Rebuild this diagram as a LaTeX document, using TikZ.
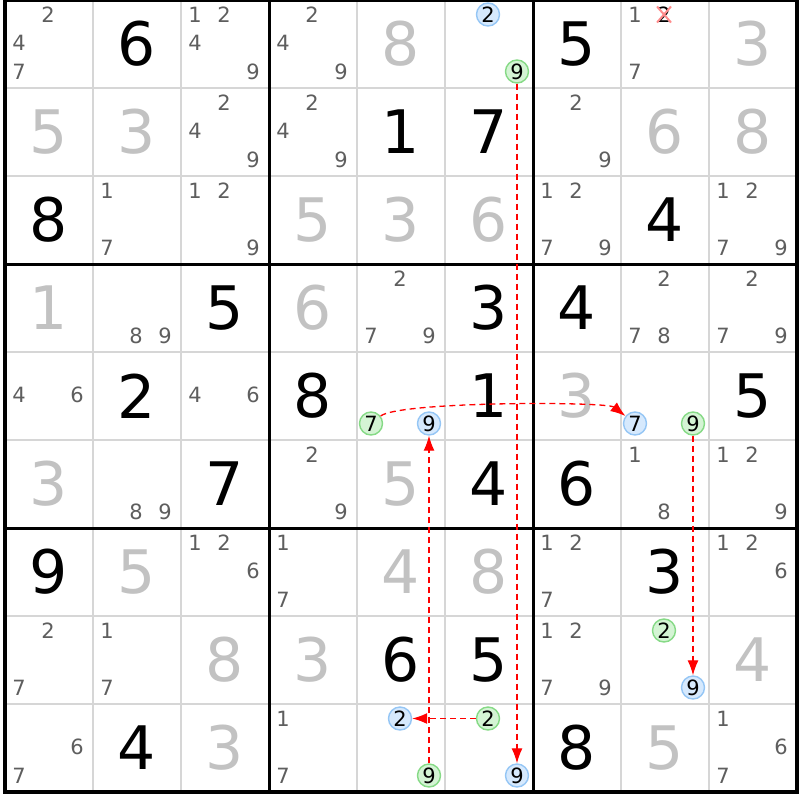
\documentclass[tikz,border=0pt]{standalone}
\usepackage{fontspec}
\setmainfont{DejaVu Sans}
\usetikzlibrary{arrows.meta}

\definecolor{gridgrey}{HTML}{D6D6D6}
\definecolor{pencilgrey}{HTML}{5E5E5E}
\definecolor{solvedgrey}{HTML}{C2C2C2}
\definecolor{bluefill}{HTML}{D6E9FD}
\definecolor{bluedraw}{HTML}{95C6F5}
\definecolor{greenfill}{HTML}{D4F4D4}
\definecolor{greendraw}{HTML}{86DA86}
\definecolor{crossred}{HTML}{FF8C8C}

\tikzset{
	given/.style={font=\fontsize{60}{60}\selectfont, text=black, inner sep=0pt},
	solved/.style={given, text=solvedgrey},
	cand/.style={font=\fontsize{21}{21}\selectfont, text=pencilgrey, inner sep=0pt},
	bluecand/.style={cand, text=black, circle, draw=bluedraw, fill=bluefill, line width=1.4pt, minimum size=23pt},
	greencand/.style={bluecand, draw=greendraw, fill=greenfill},
	link/.style={->, color=red, line width=1.3pt, dash pattern=on 6pt off 4pt}
}

\begin{document}
\begin{tikzpicture}[x=1pt, y=1pt, >={Latex[length=15pt,width=11pt]}]

\fill[white] (0,0) rectangle (800,-800);
\useasboundingbox (0,0) rectangle (800,-800);

\foreach \i in {1,2,4,5,7,8}{
	\draw[gridgrey, line width=2pt] ({5+88*\i},0)--({5+88*\i},-792);
	\draw[gridgrey, line width=2pt] (5,{-88*\i})--(797,{-88*\i});
}
\foreach \i in {3,6}{
	\draw[line width=3pt] ({5+88*\i},0)--({5+88*\i},-792);
	\draw[line width=3pt] (5,{-88*\i})--(797,{-88*\i});
}
\draw[line width=4pt] (5,0) rectangle (797,-792);

\foreach \c/\r/\v in {1/0/6, 6/0/5, 4/1/1, 5/1/7, 0/2/8, 7/2/4, 2/3/5, 5/3/3, 6/3/4,
	1/4/2, 3/4/8, 5/4/1, 8/4/5, 2/5/7, 5/5/4, 6/5/6, 0/6/9, 7/6/3, 4/7/6, 5/7/5, 1/8/4, 6/8/8}{
	\node[given] (g\c\r) at ({49+88*\c},{-44-88*\r}) {\v};
}
\foreach \c/\r/\v in {4/0/8, 8/0/3, 0/1/5, 1/1/3, 7/1/6, 8/1/8, 3/2/5, 4/2/3, 5/2/6, 0/3/1, 3/3/6,
	6/4/3, 0/5/3, 4/5/5, 1/6/5, 4/6/4, 5/6/8, 2/7/8, 3/7/3, 8/7/4, 2/8/3, 7/8/5}{
	\node[solved] (s\c\r) at ({49+88*\c},{-44-88*\r}) {\v};
}

\foreach \c/\r/\ds in {0/0/{2,4,7}, 2/0/{1,2,4,9}, 3/0/{2,4,9}, 7/0/{1,7},
	2/1/{2,4,9}, 3/1/{2,4,9}, 6/1/{2,9},
	1/2/{1,7}, 2/2/{1,2,9}, 6/2/{1,2,7,9}, 8/2/{1,2,7,9},
	1/3/{8,9}, 4/3/{2,7,9}, 7/3/{2,7,8}, 8/3/{2,7,9},
	0/4/{4,6}, 2/4/{4,6},
	1/5/{8,9}, 3/5/{2,9}, 7/5/{1,8}, 8/5/{1,2,9},
	2/6/{1,2,6}, 3/6/{1,7}, 6/6/{1,2,7}, 8/6/{1,2,6},
	0/7/{2,7}, 1/7/{1,7}, 6/7/{1,2,7,9},
	0/8/{6,7}, 3/8/{1,7}, 8/8/{1,6,7}}{
	\foreach \d in \ds{
		\node[cand] (p\c\r\d) at ({19+88*\c+29*mod(\d-1,3)},{-14.5-88*\r-28.5*floor((\d-1)/3)}) {\d};
	}
}

\node[cand, text=black] (p702) at (664,-14.5) {2};
\draw[crossred, line width=2pt] ([shift={(-7,8)}]p702.center)--([shift={(7,-8)}]p702.center);
\draw[crossred, line width=2pt] ([shift={(7,8)}]p702.center)--([shift={(-7,-8)}]p702.center);

\foreach \n/\s/\c/\r/\d in {b2a/bluecand/5/0/2, g9a/greencand/5/0/9,
	g7b/greencand/4/4/7, b9b/bluecand/4/4/9, b7c/bluecand/7/4/7, g9c/greencand/7/4/9,
	g2d/greencand/7/7/2, b9d/bluecand/7/7/9,
	b2e/bluecand/4/8/2, g9e/greencand/4/8/9, g2f/greencand/5/8/2, b9f/bluecand/5/8/9}{
	\node[\s] (\n) at ({19+88*\c+29*mod(\d-1,3)},{-14.5-88*\r-28.5*floor((\d-1)/3)}) {\d};
}

\draw[link] (g9a)--(b9f);
\draw[link] (g7b) to[out=38, in=142, looseness=0.25] (b7c);
\draw[link] (g9c)--(b9d);
\draw[link] (g2f)--(b2e);
\draw[link] (g9e)--(b9b);

\end{tikzpicture}
\end{document}
